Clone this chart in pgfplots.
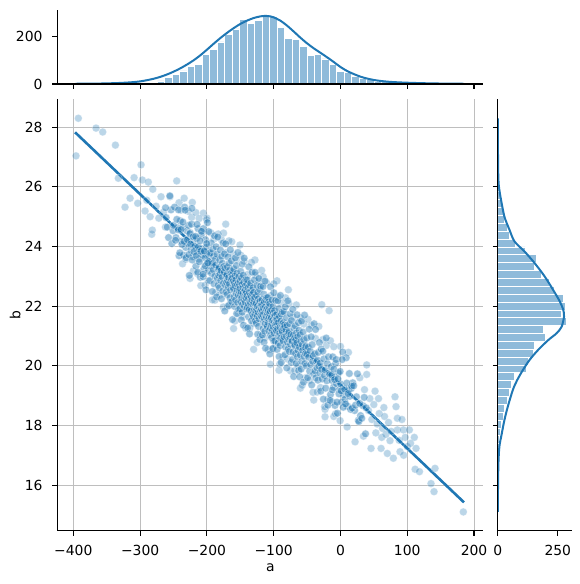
\documentclass[border=0pt]{standalone}
\usepackage{fontspec}
\setmainfont{DejaVu Sans}
\usepackage{pgfplots}
\pgfplotsset{compat=1.18}
\definecolor{c1}{HTML}{1F77B4}
\definecolor{barc}{RGB}{143,187,218}
\definecolor{gridc}{RGB}{190,190,190}
\pgfplotsset{
  jp/.style={scale only axis, axis lines*=left,
    axis line style={black, line width=1.1pt},
    tick style={black, line width=1.1pt},
    tick align=outside, major tick length=4.9pt,
    tick label style={font=\fontsize{13.9}{16}\selectfont, inner sep=0pt},
    xticklabel style={anchor=north, yshift=-9.7pt},
    yticklabel style={anchor=east, xshift=-9.7pt},
    label style={font=\fontsize{13.9}{16}\selectfont, inner sep=0pt}},
  sc/.style={only marks, mark=*, mark size=3.9pt,
    mark options={fill=c1, draw=white, line width=0.7pt, opacity=0.3}},
  scd/.style={only marks, mark=*, mark size=3.9pt,
    mark options={fill=c1, draw=white, line width=0.7pt, opacity=0.45}}
}
\begin{document}
\begin{tikzpicture}
\path[use as bounding box] (0pt,0pt) rectangle (580pt,-584pt);
% ---------------- main joint axis
\begin{axis}[jp, at={(57.3pt,-530.7pt)}, anchor=south west,
  width=426pt, height=432.1pt,
  xmin=-424, xmax=213.9, ymin=14.47, ymax=28.96,
  xtick={-400,-300,-200,-100,0,100,200},
  xticklabels={−400,−300,−200,−100,0,100,200},
  ytick={16,18,20,22,24,26,28},
  yticklabels={16,18,20,22,24,26,28},
  grid=major, grid style={gridc, line width=1pt},
  xlabel={a}, ylabel={b},
  xlabel style={at={(axis description cs:0.5,0)}, anchor=base, yshift=-40.3pt},
  ylabel style={at={(axis description cs:0,0.5)}, anchor=base, yshift=36.8pt}]
% sparse / outlying points
\addplot[sc] coordinates {
(-396.0,27.04) (-392.5,28.30) (-366.0,27.97) (-356.0,27.84) (-337.0,27.40) (-332.6,26.29)
(-322.6,25.32) (-315.0,25.62) (-309.0,26.31) (-303.6,25.45) (-298.6,26.74) (-296.7,26.23)
(-292.6,25.19) (-287.7,26.16) (-282.6,24.41) (-281.7,24.55) (-281.0,25.92) (-268.7,25.67)
(-255.2,25.67) (-245.2,26.20) (-241.7,25.47) (-221.8,25.48) (-205.3,25.12) (-171.8,24.75)
(-162.8,24.16) (-290.0,25.55) (-276.0,25.35) (-272.0,24.95) (-265.0,25.15) (-262.0,24.65)
(-285.0,25.00)
(-150.5,24.05) (-128.0,23.55) (-118.0,23.20) (-95.0,22.85) (-78.0,22.55) (-28.0,22.05)
(-17.0,21.85) (0.0,20.65) (12.0,20.45) (-188.0,22.20) (-160.0,21.25) (-130.0,20.55)
(-105.0,20.05) (-92.0,19.85) (-60.0,19.25) (-40.0,18.85) (-10.0,18.30) (10.0,17.95)
(-175.0,24.45) (-200.0,24.95)
(39.3,20.03) (39.3,19.71) (51.8,19.15) (81.7,18.96) (83.2,18.63) (85.2,18.24)
(110.6,17.60) (113.2,17.23) (141.6,16.56) (135.6,16.05) (140.1,15.78) (184.0,15.10)
(111.8,16.53) (118.3,16.45) (100.1,17.29) (89.2,17.12) (79.2,16.90) (70.2,17.06)
(60.8,17.23) (45.8,17.23) (-23.1,18.29) (-23.1,18.54) (-0.5,18.16) (21.9,17.45)
(34.4,17.64) (61.8,17.60) (74.2,17.49) (85.2,17.85) (94.2,17.85) (103.2,17.85) (94.6,17.00)
(42,18.50) (44,18.90) (47,18.20) (50,18.70) (53,17.75) (55,18.05) (57,18.90) (58,18.40)
(63,17.90) (65,18.60) (66,18.30) (68,17.70) (72,18.10) (76,17.80) (88,17.50) (92,18.20)
(97,17.60) (105,17.40) (36,19.20) (29,19.60)
% edge of the cloud
(-239,25.22) (-236.5,23.42) (-234,25.62) (-231.5,23.57)
(-227.8,25.18) (-225.3,22.93) (-222.8,24.98) (-220.3,23.18)
(-216.6,25.14) (-214.1,23.09) (-211.6,24.94) (-209.1,22.69)
(-205.4,24.50) (-202.9,22.70) (-200.4,24.90) (-197.9,22.85)
(-194.2,24.46) (-191.7,22.21) (-189.2,24.26) (-186.7,22.46)
(-183,24.42) (-180.5,22.37) (-178,24.22) (-175.5,21.97)
(-171.8,23.79) (-169.3,21.99) (-166.8,24.19) (-164.3,22.14)
(-160.6,23.75) (-158.1,21.50) (-155.6,23.55) (-153.1,21.75)
(-149.4,23.71) (-146.9,21.66) (-144.4,23.51) (-141.9,21.26)
(-138.2,23.07) (-135.7,21.27) (-133.2,23.47) (-130.7,21.42)
(-127,23.03) (-124.5,20.78) (-122,22.83) (-119.5,21.03)
(-115.8,22.99) (-113.3,20.94) (-110.8,22.79) (-108.3,20.54)
(-104.6,22.35) (-102.1,20.55) (-99.6,22.75) (-97.1,20.70)
(-93.4,22.31) (-90.9,20.06) (-88.4,22.11) (-85.9,20.31)
(-82.2,22.28) (-79.7,20.23) (-77.2,22.08) (-74.7,19.83)
(-71,21.64) (-68.5,19.84) (-66,22.04) (-63.5,19.99)
(-59.8,21.60) (-57.3,19.35) (-54.8,21.40) (-52.3,19.60)
(-48.6,21.56) (-46.1,19.51) (-43.6,21.36) (-41.1,19.11)
(-37.4,20.92) (-34.9,19.12) (-32.4,21.32) (-29.9,19.27)
(-26.2,20.88) (-23.7,18.63) (-21.2,20.68) (-18.7,18.88)
(-15,20.84) (-12.5,18.79) (-10,20.64) (-7.5,18.39)
};
% dense cloud
\addplot[scd] coordinates {
(-261.1,24.97) (-257.4,24.30) (-253.7,25.23)
(-250.7,24.53) (-248.4,25.32) (-246.2,24.30) (-244.0,24.63) (-241.7,23.69)
(-239.8,24.86) (-238.2,24.18) (-236.6,24.64) (-235.0,23.71) (-233.4,25.32) (-231.8,23.97) (-230.2,24.53)
(-228.8,24.10) (-227.5,24.71) (-226.3,23.03) (-225.0,24.46) (-223.8,23.89) (-222.6,25.28) (-221.3,23.66) (-220.1,24.20) (-218.8,23.99)
(-217.6,24.01) (-216.5,23.34) (-215.4,24.27) (-214.3,23.81) (-213.2,24.60) (-212.0,23.58) (-210.9,23.91) (-209.8,22.97) (-208.7,24.38) (-207.6,23.70)
(-206.6,23.92) (-205.9,22.99) (-205.1,24.60) (-204.4,23.25) (-203.6,23.81) (-202.9,23.62) (-202.1,24.23) (-201.4,22.55) (-200.7,23.98) (-199.9,23.41) (-199.2,24.80) (-198.4,23.18) (-197.7,23.72) (-196.9,23.51) (-196.2,23.77)
(-195.5,22.86) (-194.9,23.79) (-194.2,23.33) (-193.6,24.12) (-193.0,23.10) (-192.4,23.43) (-191.8,22.49) (-191.1,23.90) (-190.5,23.22) (-189.9,23.68) (-189.3,22.75) (-188.6,24.36) (-188.0,23.01) (-187.4,23.57) (-186.8,23.38) (-186.2,23.99) (-185.5,22.31) (-184.9,23.74)
(-184.3,22.93) (-183.8,24.32) (-183.3,22.70) (-182.8,23.24) (-182.3,23.03) (-181.8,23.29) (-181.3,22.62) (-180.8,23.55) (-180.3,23.09) (-179.8,23.88) (-179.3,22.86) (-178.7,23.19) (-178.2,22.25) (-177.7,23.66) (-177.2,22.98) (-176.7,23.44) (-176.2,22.51) (-175.7,24.12) (-175.2,22.77) (-174.7,23.33) (-174.2,23.14) (-173.7,23.75)
(-173.2,21.84) (-172.8,23.27) (-172.3,22.70) (-171.9,24.09) (-171.5,22.47) (-171.0,23.01) (-170.6,22.80) (-170.2,23.06) (-169.7,22.39) (-169.3,23.32) (-168.9,22.86) (-168.4,23.65) (-168.0,22.63) (-167.6,22.96) (-167.2,22.02) (-166.7,23.43) (-166.3,22.75) (-165.9,23.21) (-165.4,22.28) (-165.0,23.89) (-164.6,22.54) (-164.1,23.10) (-163.7,22.91) (-163.3,23.52) (-162.8,22.15) (-162.4,23.05)
(-162.0,22.94) (-161.6,21.55) (-161.2,23.17) (-160.8,22.63) (-160.5,22.84) (-160.1,22.58) (-159.7,23.25) (-159.3,22.32) (-158.9,22.78) (-158.5,21.99) (-158.1,23.01) (-157.8,22.68) (-157.4,23.62) (-157.0,22.21) (-156.6,22.89) (-156.2,22.43) (-155.8,23.36) (-155.4,21.75) (-155.1,23.10) (-154.7,22.54) (-154.3,22.73) (-153.9,22.12) (-153.5,23.80) (-153.1,22.37) (-152.7,22.80) (-152.4,21.90) (-152.0,23.00) (-151.6,22.50) (-151.2,22.70)
(-150.8,22.58) (-150.5,21.91) (-150.2,22.84) (-149.9,22.38) (-149.5,23.17) (-149.2,22.15) (-148.9,22.48) (-148.5,21.54) (-148.2,22.95) (-147.9,22.27) (-147.5,22.73) (-147.2,21.80) (-146.9,23.41) (-146.6,22.06) (-146.2,22.62) (-145.9,22.43) (-145.6,23.04) (-145.2,21.36) (-144.9,22.79) (-144.6,22.22) (-144.2,23.61) (-143.9,21.99) (-143.6,22.53) (-143.3,22.32) (-142.9,22.53) (-142.6,22.13) (-142.3,22.69) (-141.9,22.41) (-141.6,22.89) (-141.3,22.27) (-140.9,22.47) (-140.6,21.91) (-140.3,22.75) (-140.0,22.35)
(-139.6,21.95) (-139.3,22.88) (-138.9,21.27) (-138.6,22.62) (-138.2,22.06) (-137.9,22.25) (-137.5,21.64) (-137.2,23.32) (-136.8,21.89) (-136.5,22.46) (-136.1,21.07) (-135.8,22.69) (-135.4,22.15) (-135.1,22.36) (-134.7,22.10) (-134.4,22.77) (-134.0,21.84) (-133.7,22.30) (-133.3,21.51) (-133.0,22.53) (-132.6,22.20) (-132.3,23.14) (-131.9,21.73) (-131.6,22.41) (-131.2,22.06) (-130.9,22.62) (-130.5,21.65) (-130.2,22.46) (-129.8,22.12) (-129.5,22.24) (-129.1,21.87) (-128.8,22.88)
(-128.4,22.31) (-128.1,21.74) (-127.8,23.13) (-127.4,21.51) (-127.1,22.05) (-126.7,21.84) (-126.4,22.10) (-126.1,21.43) (-125.7,22.36) (-125.4,21.90) (-125.0,22.69) (-124.7,21.67) (-124.4,22.00) (-124.0,21.06) (-123.7,22.47) (-123.3,21.79) (-123.0,22.25) (-122.7,21.32) (-122.3,22.93) (-122.0,21.58) (-121.6,22.14) (-121.3,21.95) (-121.0,22.56) (-120.6,20.88) (-120.3,22.18) (-119.9,21.84) (-119.6,22.67) (-119.3,21.70) (-118.9,22.02) (-118.6,21.90) (-118.2,22.05) (-117.9,21.65) (-117.6,22.21)
(-117.2,21.82) (-116.9,21.03) (-116.6,22.05) (-116.3,21.72) (-116.0,22.66) (-115.7,21.25) (-115.4,21.93) (-115.1,21.47) (-114.8,22.40) (-114.5,20.79) (-114.2,22.14) (-113.9,21.58) (-113.6,21.77) (-113.3,21.16) (-113.0,22.84) (-112.7,21.41) (-112.4,21.98) (-112.1,20.59) (-111.8,22.21) (-111.5,21.67) (-111.2,21.88) (-110.9,21.62) (-110.6,22.29) (-110.3,21.36) (-110.0,21.79) (-109.7,21.31) (-109.4,21.93) (-109.1,21.73) (-108.8,22.29) (-108.5,21.45) (-108.2,21.85) (-107.9,21.58) (-107.6,22.14) (-107.3,21.17) (-107.0,21.98) (-106.7,21.64) (-106.4,21.76)
(-106.0,22.08) (-105.7,20.40) (-105.4,21.83) (-105.1,21.26) (-104.8,22.65) (-104.5,21.03) (-104.2,21.57) (-103.9,21.36) (-103.5,21.62) (-103.2,20.95) (-102.9,21.88) (-102.6,21.42) (-102.3,22.21) (-102.0,21.19) (-101.7,21.52) (-101.4,20.58) (-101.1,21.99) (-100.8,21.31) (-100.4,21.77) (-100.1,20.84) (-99.8,22.45) (-99.5,21.10) (-99.2,21.66) (-98.9,21.47) (-98.6,21.85) (-98.3,20.84) (-98.0,21.70) (-97.7,21.36) (-97.3,22.19) (-97.0,21.22) (-96.7,21.54) (-96.4,21.42) (-96.1,21.57) (-95.8,21.17) (-95.5,21.73) (-95.2,21.45)
(-94.8,20.55) (-94.4,21.57) (-94.1,21.24) (-93.7,22.18) (-93.3,20.77) (-92.9,21.45) (-92.6,20.99) (-92.2,21.92) (-91.8,20.31) (-91.5,21.66) (-91.1,21.10) (-90.7,21.29) (-90.3,20.68) (-90.0,22.36) (-89.6,20.93) (-89.2,21.50) (-88.8,20.11) (-88.5,21.73) (-88.1,21.19) (-87.7,21.40) (-87.3,21.14) (-87.0,21.81) (-86.6,20.88) (-86.2,21.34) (-85.9,20.83) (-85.5,21.45) (-85.1,21.25) (-84.7,21.81) (-84.4,20.97) (-84.0,21.37)
(-83.6,21.30) (-83.1,20.37) (-82.6,21.98) (-82.2,20.63) (-81.7,21.19) (-81.2,21.00) (-80.8,21.61) (-80.3,19.93) (-79.8,21.36) (-79.4,20.79) (-78.9,22.18) (-78.4,20.56) (-78.0,21.10) (-77.5,20.89) (-77.0,21.15) (-76.6,20.48) (-76.1,21.41) (-75.6,20.95) (-75.2,21.74) (-74.7,20.72) (-74.2,21.05) (-73.8,20.11) (-73.3,21.52) (-72.8,20.84)
(-72.4,20.82) (-71.9,20.21) (-71.4,21.89) (-71.0,20.46) (-70.5,21.03) (-70.0,19.64) (-69.6,21.26) (-69.1,20.72) (-68.6,20.93) (-68.2,20.67) (-67.7,21.34) (-67.2,20.41) (-66.8,20.87) (-66.3,20.08) (-65.8,21.10) (-65.4,20.77) (-64.9,21.71) (-64.4,20.30) (-64.0,20.98) (-63.5,20.52) (-63.0,21.45) (-62.6,19.84) (-62.1,21.19) (-61.6,20.63)
(-61.1,19.63) (-60.6,21.04) (-60.0,20.36) (-59.4,20.82) (-58.9,19.89) (-58.3,21.50) (-57.8,20.15) (-57.2,20.71) (-56.6,20.52) (-56.1,21.13) (-55.5,19.45) (-55.0,20.88) (-54.4,20.31) (-53.8,21.70) (-53.3,20.08) (-52.7,20.62) (-52.2,20.41) (-51.6,20.67) (-51.0,20.00) (-50.5,20.93)
(-49.8,20.39) (-49.1,19.60) (-48.3,20.62) (-47.6,20.29) (-46.8,21.23) (-46.1,19.82) (-45.3,20.50) (-44.6,20.04) (-43.9,20.97) (-43.1,19.36) (-42.4,20.71) (-41.6,20.15) (-40.9,20.34) (-40.1,19.73) (-39.4,21.41)
(-38.7,20.40) (-38.0,19.83) (-37.3,21.22) (-36.6,19.60) (-35.9,20.14) (-35.2,19.93) (-34.5,20.19) (-33.8,19.52) (-33.0,20.45) (-32.3,19.99) (-31.6,20.78) (-30.9,19.76) (-30.2,20.09) (-29.5,19.15) (-28.8,20.56) (-28.1,19.88)
(-27.4,19.56) (-26.5,20.49) (-25.6,18.88) (-24.8,20.23) (-23.9,19.67) (-23.1,19.86) (-22.2,19.25) (-21.3,20.93) (-20.5,19.50) (-19.6,20.07) (-18.8,18.68) (-17.9,20.30) (-17.0,19.76)
(-16.0,19.71) (-14.9,19.04) (-13.8,19.97) (-12.7,19.51) (-11.6,20.30) (-10.4,19.28) (-9.3,19.61) (-8.2,18.67) (-7.1,20.08) (-6.0,19.40)
(-4.6,18.41) (-3.0,19.76) (-1.4,19.20) (0.2,19.39) (1.8,18.78) (3.4,20.46) (5.0,19.03)
(6.7,18.88) (8.6,20.27) (10.5,18.65) (12.3,19.19) (14.2,18.98) (16.1,19.24)
(18.4,19.43) (21.2,18.50) (24.0,18.96) (26.8,18.17) (30.1,18.33) (33.8,18.66) (37.5,17.72)
(-262.0,25.30) (-259.5,24.65) (-255.5,25.70) (-252.5,24.10)
(-250.0,24.71) (-247.0,24.21) (-245.0,24.91) (-243.0,24.56) (-242.5,25.23)
(-240.5,23.79) (-238.8,24.57) (-237.3,24.07) (-236.0,24.82) (-234.2,24.17) (-232.5,25.22) (-231.0,23.62)
(-229.3,24.23) (-227.0,23.73) (-225.6,24.43) (-224.4,24.08) (-223.1,24.75) (-221.9,23.55) (-220.6,24.33) (-219.4,23.83)
(-217.0,24.34) (-215.9,23.69) (-214.8,24.74) (-213.7,23.14) (-212.6,23.99) (-211.4,23.49) (-210.3,24.19) (-209.2,23.84) (-208.1,24.51)
(-206.0,23.07) (-204.0,23.85) (-202.5,23.35) (-200.3,24.10) (-198.8,23.45) (-197.2,24.50)
(-15.5,18.84) (-13.2,19.69) (-12.1,19.19) (-9.9,19.89) (-8.8,19.54) (-6.6,20.21)
(-5.2,18.78) (-3.8,19.56) (-2.2,19.06) (-0.6,19.81) (1.0,19.16) (2.6,20.21) (4.2,18.61)
(6.2,19.22) (7.6,18.72) (9.5,19.42) (11.4,19.07) (13.3,19.74) (15.2,18.54) (16.8,19.32)
(17.6,18.58) (19.8,19.33) (22.6,18.68) (25.4,19.73) (27.5,18.13)
(28.8,18.74) (31.9,18.24) (35.6,18.94) (38.6,18.59)
};
% regression line
\addplot[c1, line width=2.6pt] coordinates {(-397.4,27.83) (185.0,15.42)};
\end{axis}
% ---------------- top marginal
\begin{axis}[jp, axis on top, at={(57.3pt,-84pt)}, anchor=south west,
  width=426pt, height=74pt,
  xmin=-424, xmax=213.9, ymin=0, ymax=313,
  xtick={-400,-300,-200,-100,0,100,200}, xticklabels={},
  ytick={0,200}, yticklabels={0,200}]
\addplot[ybar interval, fill=barc, draw=white, line width=0.8pt] coordinates {
(-397.4,2) (-386.2,1) (-375.0,1) (-363.8,1) (-352.6,1) (-341.4,2) (-330.2,2) (-319.0,3)
(-307.8,4) (-296.6,6) (-285.4,8) (-274.2,13) (-263.0,28) (-251.8,42) (-240.6,55) (-229.4,75)
(-218.2,81) (-207.0,125) (-195.8,148) (-184.6,178) (-173.4,208) (-162.2,233) (-151.0,272)
(-139.8,256) (-128.6,268) (-117.4,296) (-106.2,286) (-95.0,240) (-83.8,191) (-72.6,190)
(-61.4,158) (-50.2,120) (-39.0,125) (-27.8,106) (-16.6,82) (-5.4,53) (5.8,50) (17.0,33)
(28.2,24) (39.4,20) (50.6,13) (61.8,9) (73.0,7) (84.2,5) (95.4,4) (106.6,3) (117.8,3)
(129.0,2) (140.2,1) (151.4,1) (162.6,1) (173.8,1) (185.0,1)
};
\addplot[c1, line width=2pt, smooth] coordinates {
(-397,1) (-380,1.5) (-360,2) (-345,3) (-330,4.5) (-320,6) (-310,8) (-300,11) (-290,16)
(-280,22) (-270,30) (-260,40) (-250,52) (-240,66) (-230,82) (-220,100) (-210,121) (-200,145)
(-190,170) (-180,194) (-170,216) (-160,236) (-150,254) (-140,268) (-130,279) (-120,286)
(-112,288) (-105,286) (-100,282) (-90,268) (-80,247) (-70,222) (-60,196) (-50,172) (-40,151)
(-30,132) (-20,113) (-10,93) (0,72) (10,55) (20,42) (30,31) (40,23) (50,17) (60,13) (70,10)
(80,8) (95,6) (110,4.5) (130,3) (150,2) (170,1.5) (185,1)
};
\end{axis}
% ---------------- right marginal
\begin{axis}[jp, axis on top, at={(497.7pt,-530.7pt)}, anchor=south west,
  width=74pt, height=432.1pt,
  xmin=0, xmax=308, ymin=14.47, ymax=28.96,
  xtick={0,250}, xticklabels={0,250},
  ytick={16,18,20,22,24,26,28}, yticklabels={}]
\addplot[xbar interval, fill=barc, draw=white, line width=0.8pt] coordinates {
(1,15.01) (0,15.274) (1,15.538) (1,15.802) (1,16.066) (2,16.33) (2,16.594) (3,16.858)
(5,17.122) (7,17.386) (12,17.65) (17,17.914) (25,18.178) (28,18.442) (42,18.706) (49,18.97)
(56,19.234) (70,19.498) (119,19.762) (126,20.026) (147,20.29) (154,20.554) (199,20.818)
(189,21.082) (287,21.346) (266,21.61) (283,21.874) (273,22.138) (238,22.402) (217,22.666)
(182,22.93) (154,23.194) (161,23.458) (115,23.722) (73,23.986) (49,24.25) (42,24.514)
(28,24.778) (25,25.042) (17,25.306) (12,25.57) (9,25.834) (6,26.098) (4,26.362) (3,26.626)
(2,26.89) (2,27.154) (1,27.418) (1,27.682) (1,27.946) (1,28.21) (1,28.474)
};
\addplot[c1, line width=2pt, smooth] coordinates {
(0.5,15.1) (1,15.7) (2,16.3) (3,16.73) (7,17.29) (17,17.73) (28,18.18) (42,18.63) (63,19.19)
(81,19.52) (105,19.86) (133,20.2) (168,20.53) (210,20.86) (245,21.09) (266,21.31) (276,21.65)
(273,21.87) (259,22.15) (231,22.54) (196,22.99) (154,23.44) (112,23.83) (70,24.17) (49,24.56)
(28,25.0) (14,25.56) (6,25.95) (3,26.23) (1.5,26.8) (1,27.5) (0.5,28.3)
};
\end{axis}
\end{tikzpicture}
\end{document}
